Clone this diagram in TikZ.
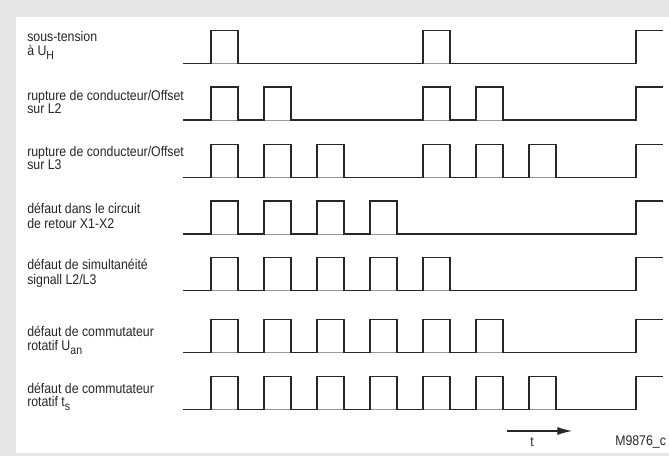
\documentclass[tikz,border=0pt]{standalone}
\usepackage{fontspec}
\setmainfont[FakeStretch=0.88]{Liberation Sans}
\usetikzlibrary{arrows.meta}
\definecolor{panelgray}{RGB}{230,230,230}
\definecolor{inkgray}{RGB}{40,38,38}
\newcommand{\lowsub}[1]{\raisebox{-2.6pt}{\small #1}}
\begin{document}
\begin{tikzpicture}[x=0.75pt,y=-0.75pt]
    \tikzset{sig/.style = {inkgray, line width=1.15pt, line join=miter}}
    \tikzset{zero/.style = {black!40, line width=0.6pt}}
    \tikzset{lbl/.style = {anchor=base west, inner sep=0pt, align=left, text=inkgray, font=\fontsize{10.5pt}{12.6pt}\selectfont}}

    % frame
    \fill[panelgray] (0,0) rectangle (669,456);
    \fill[white] (16,17) rectangle (669,453);
    \useasboundingbox (0,0) rectangle (669,456);

    % row labels (placed at the baseline of the last line)
    \node[lbl] (uh) at (27,56) {sous-tension\\[-1.7pt]à U\lowsub{H}};
    \node[lbl] (ltwo) at (27,113.5) {rupture de conducteur/Offset\\[-3.2pt]sur L2};
    \node[lbl] (lthree) at (27,169.5) {rupture de conducteur/Offset\\[-2.5pt]sur L3};
    \node[lbl] (retour) at (27,228.3) {défaut dans le circuit\\[-1.35pt]de retour X1-X2};
    \node[lbl] (simult) at (27,285) {défaut de simultanéité\\[-1.35pt]signall L2/L3};
    \node[lbl] (uan) at (27,350.7) {défaut de commutateur\\[-1.6pt]rotatif U\lowsub{an}};
    \node[lbl] (ts) at (27,407) {défaut de commutateur\\[-2.4pt]rotatif t\lowsub{s}};

    % pulse trains: low level / pulse numbers
    \foreach \lo/\ks in {63.3/{0,4}, 120/{0,1,4,5}, 177.3/{0,1,2,4,5,6},
                         234/{0,1,2,3}, 290.7/{0,1,2,3,4}, 352.7/{0,1,2,3,4,5},
                         409.3/{0,1,2,3,4,5,6}}{
        \draw[zero] (183,\lo) -- (636,\lo);
        \draw[sig] (183,\lo)
            foreach \k in \ks { -- ({211+53*\k},\lo) -- ({211+53*\k},\lo-33)
                                -- ({238+53*\k},\lo-33) -- ({238+53*\k},\lo) }
            -- (636,\lo) -- (636,\lo-33) -- (663,\lo-33);
    }

    % time axis
    \coordinate (tstart) at (507,431);
    \coordinate (tend) at (572,431);
    \draw[inkgray, line width=0.8pt, -{Latex[length=11pt,width=6pt]}] (tstart) -- (tend);
    \node[lbl] (tlabel) at (530,446.5) {t};
    \node[lbl] (ref) at (615,446) {M9876\_c};
\end{tikzpicture}
\end{document}
